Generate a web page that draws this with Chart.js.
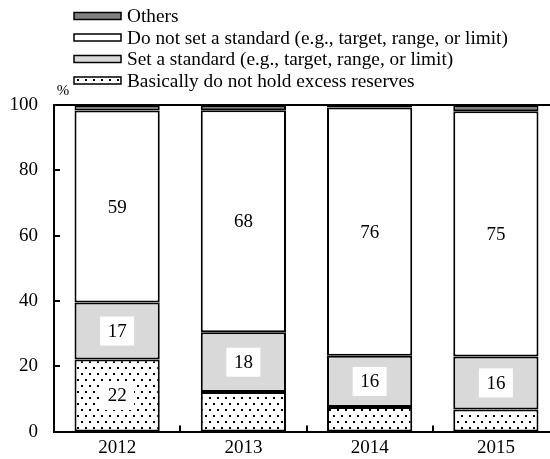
<!DOCTYPE html>
<html>
<head>
<meta charset="utf-8">
<script src="https://cdn.jsdelivr.net/npm/chart.js@4"></script>
<style>
  html, body { margin: 0; padding: 0; overflow: hidden; background: #fff; }
  canvas { display: block; }
</style>
</head>
<body>
<canvas id="chartStack" width="561" height="459"></canvas>
<script>
const categories = ['2012', '2013', '2014', '2015'];
const basicallyNone = [22.1, 12.1, 7.5, 6.8];
const setStandard = [17.4, 18.3, 15.7, 16.2];
const noStandard = [58.8, 68.0, 76.0, 75.1];
const others = [1.7, 1.6, 0.8, 1.9];
const yTicks = [0, 20, 40, 60, 80, 100];

const FONT = '"Liberation Serif", "Times New Roman", serif';

function dotPattern(ctx) {
    const c = document.createElement('canvas');
    c.width = 8;
    c.height = 12;
    const p = c.getContext('2d');
    p.fillStyle = '#fff';
    p.fillRect(0, 0, 8, 12);
    p.fillStyle = '#000';
    p.fillRect(1, 1, 2, 2);
    p.fillRect(5, 7, 2, 2);
    return ctx.createPattern(c, 'repeat');
}

const ctx = document.getElementById('chartStack').getContext('2d');
const dots = dotPattern(ctx);

// which datasets get value labels, and the smallest value that is labelled
const labelled = { 0: 20, 1: 0, 2: 0 };

const decorPlugin = {
    id: 'decor',
    afterDatasetsDraw(chart) {
        const c = chart.ctx;
        const area = chart.chartArea;
        const x = chart.scales.x;
        const y = chart.scales.y;

        c.save();
        c.strokeStyle = '#000';
        c.lineWidth = 2;
        c.beginPath();
        // top frame line
        c.moveTo(area.left - 1, area.top);
        c.lineTo(area.right, area.top);
        // inward ticks on y axis
        yTicks.forEach(v => {
            const py = Math.round(y.getPixelForValue(v));
            c.moveTo(area.left, py);
            c.lineTo(area.left + 6, py);
        });
        // category dividers on x axis
        for (let i = 0; i < categories.length - 1; i++) {
            const px = Math.round((x.getPixelForValue(i) + x.getPixelForValue(i + 1)) / 2);
            c.moveTo(px, area.bottom);
            c.lineTo(px, area.bottom - 6);
        }
        c.stroke();

        // value labels with white boxes
        c.font = '19px ' + FONT;
        c.textAlign = 'center';
        c.textBaseline = 'middle';
        Object.keys(labelled).forEach(di => {
            const ds = chart.data.datasets[di];
            chart.getDatasetMeta(di).data.forEach((bar, j) => {
                const v = ds.data[j];
                if (v < labelled[di]) return;
                const cy = (bar.y + bar.base) / 2;
                c.fillStyle = '#fff';
                c.fillRect(bar.x - 17, cy - 14.5, 34, 29);
                c.fillStyle = '#000';
                c.fillText(String(Math.round(v)), bar.x, cy + 1);
            });
        });

        // legend, top to bottom in reverse stacking order
        c.font = '19.3px ' + FONT;
        const sets = chart.data.datasets;
        for (let k = sets.length - 1, row = 0; k >= 0; k--, row++) {
            const ly = 16 + row * 21.5;
            c.fillStyle = sets[k].backgroundColor;
            c.fillRect(74, ly - 3.5, 47, 7);
            c.lineWidth = 1.5;
            c.strokeStyle = '#000';
            c.strokeRect(74, ly - 3.5, 47, 7);
            c.fillStyle = '#000';
            c.textAlign = 'left';
            c.fillText(sets[k].label, 127, ly + 1);
        }

        c.font = '15px ' + FONT;
        c.textAlign = 'center';
        c.fillText('%', 63, 91);
        c.restore();
    }
};

new Chart(ctx, {
    type: 'bar',
    data: {
        labels: categories,
        datasets: [
            { label: 'Basically do not hold excess reserves', data: basicallyNone, backgroundColor: dots },
            { label: 'Set a standard (e.g., target, range, or limit)', data: setStandard, backgroundColor: '#d9d9d9' },
            { label: 'Do not set a standard (e.g., target, range, or limit)', data: noStandard, backgroundColor: '#ffffff' },
            { label: 'Others', data: others, backgroundColor: '#808080' }
        ].map(d => Object.assign(d, {
            borderColor: '#000',
            borderWidth: 2,
            borderSkipped: false,
            categoryPercentage: 1,
            barPercentage: 0.675
        }))
    },
    options: {
        responsive: false,
        animation: false,
        devicePixelRatio: 1,
        layout: { padding: { top: 105, right: 2, left: 0, bottom: 0 } },
        scales: {
            x: {
                stacked: true,
                afterFit: s => { s.height = 23; },
                grid: { display: false, drawTicks: false },
                border: { display: true, color: '#000', width: 2 },
                ticks: { color: '#000', padding: 5, font: { family: FONT, size: 19, lineHeight: 1.2 } }
            },
            y: {
                stacked: true,
                min: 0,
                max: 100,
                afterFit: s => { s.width = 54; },
                afterBuildTicks: s => { s.ticks = yTicks.map(v => ({ value: v })); },
                grid: { display: false, drawTicks: false },
                border: { display: true, color: '#000', width: 2 },
                ticks: { color: '#000', padding: 16, font: { family: FONT, size: 19 } }
            }
        },
        plugins: {
            legend: { display: false },
            tooltip: { enabled: false }
        }
    },
    plugins: [decorPlugin]
});
</script>
</body>
</html>
